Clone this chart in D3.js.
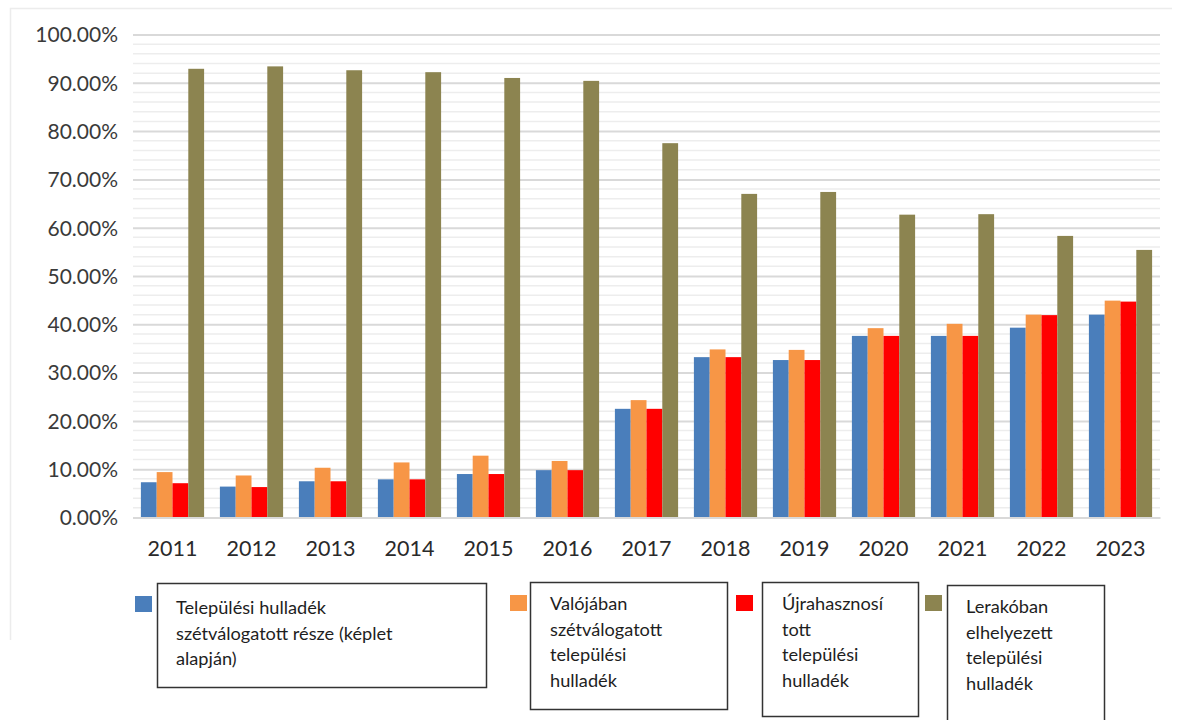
<!DOCTYPE html>
<html>
<head>
<meta charset="utf-8">
<script src="https://cdn.jsdelivr.net/npm/d3@7"></script>
<style>
  html, body { margin: 0; padding: 0; background: #fff; }
  svg { display: block; }
</style>
</head>
<body>
<svg id="chart" width="1178" height="720"></svg>
<script>
const years = ["2011","2012","2013","2014","2015","2016","2017","2018","2019","2020","2021","2022","2023"];
const seriesNames = [
  "Települési hulladék szétválogatott része (képlet alapján)",
  "Valójában szétválogatott települési hulladék",
  "Újrahasznosított települési hulladék",
  "Lerakóban elhelyezett települési hulladék"
];
const sortedFormula = [7.3, 6.4, 7.5, 7.9, 9.0, 9.8, 22.5, 33.2, 32.6, 37.6, 37.6, 39.3, 42.0];
const sortedActual  = [9.4, 8.7, 10.3, 11.4, 12.8, 11.7, 24.3, 34.8, 34.7, 39.2, 40.1, 42.0, 44.9];
const recycled      = [7.1, 6.3, 7.5, 7.9, 9.0, 9.8, 22.5, 33.2, 32.6, 37.6, 37.6, 41.9, 44.7];
const landfilled    = [92.9, 93.4, 92.6, 92.2, 91.0, 90.4, 77.5, 67.0, 67.4, 62.7, 62.8, 58.3, 55.4];
const yTicks = [0, 10, 20, 30, 40, 50, 60, 70, 80, 90, 100];
const colors = ["#4a7ebb", "#f79646", "#ff0000", "#8c8450"];
const legendLines = [
  ["Települési hulladék", "szétválogatott része (képlet", "alapján)"],
  ["Valójában", "szétválogatott", "települési", "hulladék"],
  ["Újrahasznosí", "tott", "települési", "hulladék"],
  ["Lerakóban", "elhelyezett", "települési", "hulladék"]
];

const seriesValues = [sortedFormula, sortedActual, recycled, landfilled];

const svg = d3.select("#chart");
const font = "Lato, 'Open Sans', sans-serif";

// outer frame
svg.append("path")
  .attr("d", "M10.5,640 L10.5,8.5 L1172,8.5")
  .attr("fill", "none").attr("stroke", "#ececec").attr("stroke-width", 1.5);

const x0 = d3.scaleBand().domain(years).range([133, 1160]).paddingInner(0.2).paddingOuter(0.1);
const x1 = d3.scaleBand().domain(d3.range(4)).range([0, x0.bandwidth()]);
const y = d3.scaleLinear().domain([0, 100]).range([517.5, 34.5]);

// minor gridlines
const minor = d3.range(2, 100, 2).filter(v => v % 10 !== 0);
svg.append("g").selectAll("line").data(minor).join("line")
  .attr("x1", 133).attr("x2", 1160)
  .attr("y1", d => y(d)).attr("y2", d => y(d))
  .attr("stroke", "#ededed").attr("stroke-width", 1.5);

// major gridlines via axis
const yAxis = d3.axisLeft(y).tickValues(yTicks).tickSize(-(1160 - 133)).tickFormat(d => d.toFixed(2) + "%");
const gy = svg.append("g").attr("transform", "translate(133,0)").call(yAxis);
gy.select(".domain").remove();
gy.selectAll(".tick line").attr("stroke", "#d9d9d9").attr("stroke-width", 2);
gy.selectAll(".tick text")
  .attr("x", -15).attr("dy", "0.35em")
  .attr("fill", "#3a3a3a").style("font-family", font).style("font-size", "21px");

// bars
const groups = svg.append("g").selectAll("g").data(years).join("g")
  .attr("transform", d => `translate(${x0(d)},0)`);
groups.selectAll("rect").data((d, i) => seriesValues.map((s, k) => ({k, v: s[i]}))).join("rect")
  .attr("x", d => x1(d.k))
  .attr("width", x1.bandwidth())
  .attr("y", d => y(d.v))
  .attr("height", d => y(0) - y(d.v))
  .attr("fill", d => colors[d.k]);

// x axis
const xAxis = d3.axisBottom(x0).tickSize(0);
const gx = svg.append("g").attr("transform", `translate(0,${y(0)})`).call(xAxis);
gx.select(".domain").attr("stroke", "#d9d9d9").attr("stroke-width", 2);
gx.selectAll(".tick text")
  .attr("y", 31).attr("dy", "0.35em")
  .attr("fill", "#2a2a2a").style("font-family", font).style("font-size", "21.5px");

// legend
const legend = [
  {sq: [135, 596], box: [157, 583, 329, 104], tx: 176, ty: 614},
  {sq: [510, 595], box: [530, 582, 197, 127], tx: 550, ty: 610},
  {sq: [736, 595], box: [762, 582, 156, 134], tx: 782, ty: 610},
  {sq: [925, 595], box: [947, 585, 157, 140], tx: 966, ty: 613}
];
const lg = svg.append("g");
legend.forEach((L, i) => {
  lg.append("rect").attr("x", L.sq[0]).attr("y", L.sq[1]).attr("width", 17).attr("height", 16)
    .attr("fill", colors[i]);
  lg.append("rect").attr("x", L.box[0] + 0.5).attr("y", L.box[1] + 0.5)
    .attr("width", L.box[2]).attr("height", L.box[3])
    .attr("fill", "#fff").attr("stroke", "#333").attr("stroke-width", 1.5);
  const t = lg.append("text").attr("x", L.tx).attr("y", L.ty)
    .attr("fill", "#1e1e1e").style("font-family", font).style("font-size", "18.2px");
  t.append("title").text(seriesNames[i]);
  legendLines[i].forEach((line, j) => {
    t.append("tspan").attr("x", L.tx).attr("y", L.ty + j * 25.5).text(line);
  });
});
</script>
</body>
</html>
